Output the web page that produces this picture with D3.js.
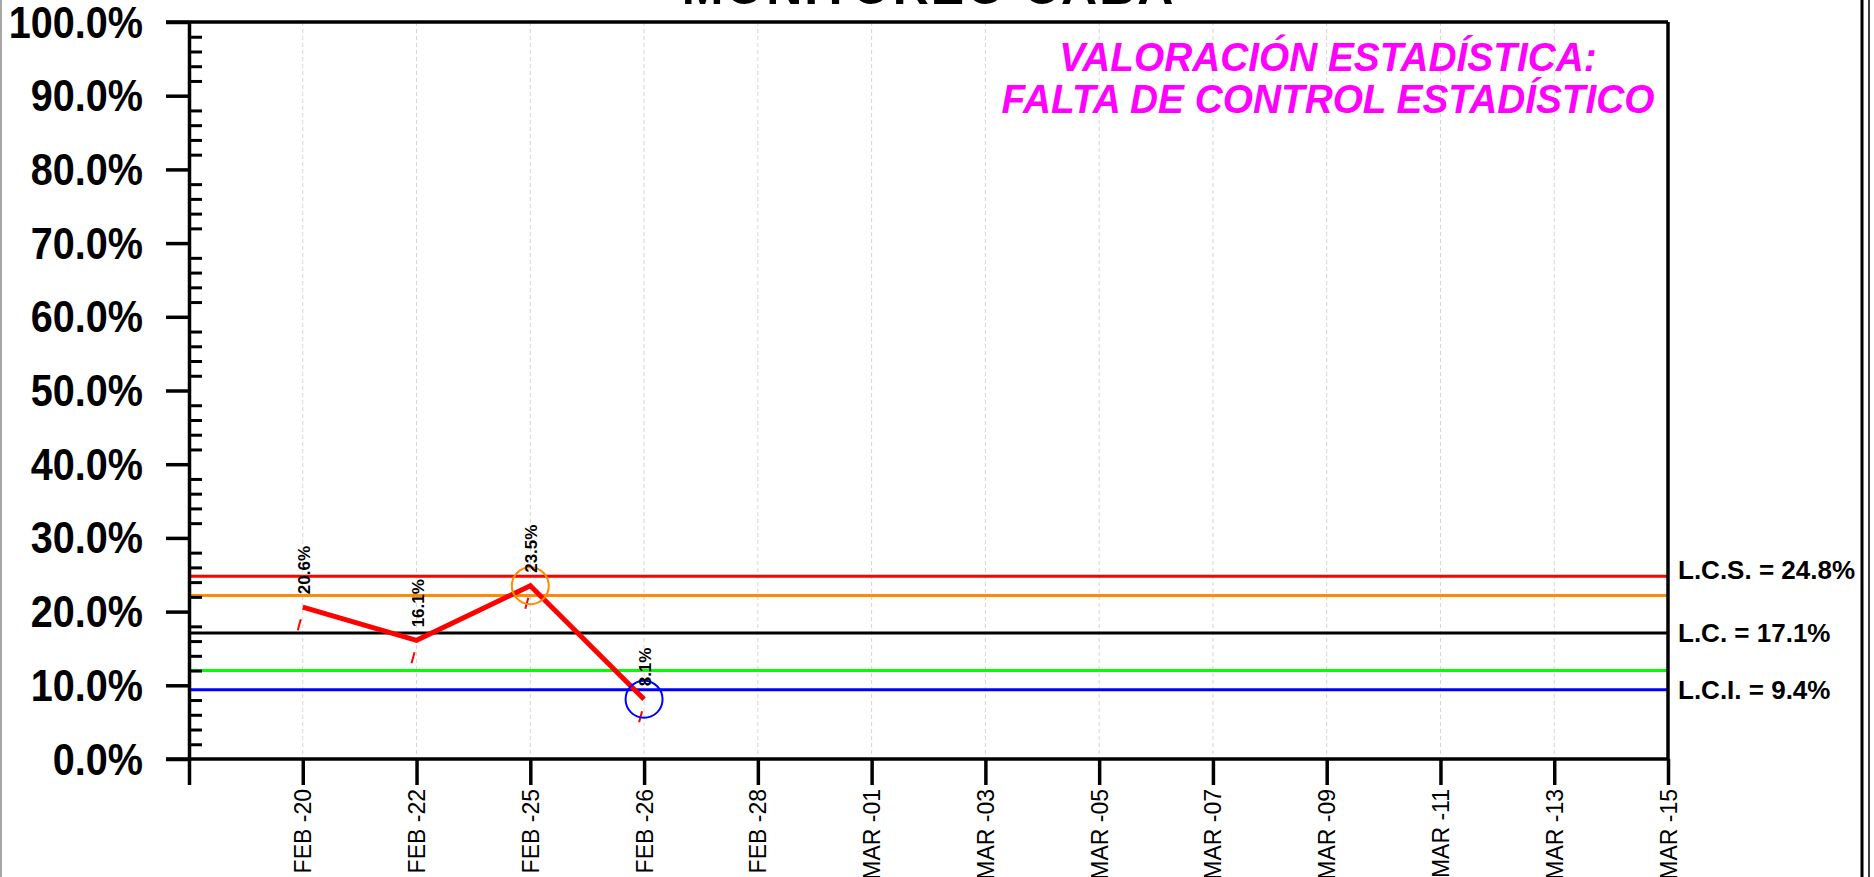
<!DOCTYPE html>
<html>
<head>
<meta charset="utf-8">
<script src="https://cdn.jsdelivr.net/npm/d3@7"></script>
<style>
	body{margin:0;background:#fff;}
	svg{display:block;font-family:Arial,'Liberation Sans',sans-serif;}
</style>
</head>
<body>
<svg id="chart"></svg>
<script>
// fechas del eje x (la primera posicion queda vacia, es el eje)
let fechas = ['FEB -20','FEB -22','FEB -25','FEB -26','FEB -28','MAR -01','MAR -03','MAR -05','MAR -07','MAR -09','MAR -11','MAR -13','MAR -15']
// valores medidos (solo las primeras fechas tienen dato)
let valores = [20.6, 16.1, 23.5, 8.1]
// limites de control
let limites = [24.8, 22.2, 17.1, 12.0, 9.4]
let limitesCols = ['#ff0000','#ff8c00','#000000','#00ff00','#0000ff']
let limitesTxt = ['L.C.S. = 24.8%', null, 'L.C. = 17.1%', null, 'L.C.I. = 9.4%']
// alertas: indice del punto y color del circulo
let alertas = [[2,'#ff8c00'],[3,'#0000ff']]
let yTicks = [0,10,20,30,40,50,60,70,80,90,100]

let _width = 1874
let _height = 877

const svg = d3.select('#chart')
	.attr('width', _width)
	.attr('height', _height)

// marco exterior
svg.append('line').attr('x1',1).attr('x2',1).attr('y1',0).attr('y2',_height).attr('stroke','#888').attr('stroke-width',1.5)
svg.append('line').attr('x1',1862).attr('x2',1862).attr('y1',0).attr('y2',_height).attr('stroke','#000').attr('stroke-width',3)
svg.append('line').attr('x1',1869).attr('x2',1869).attr('y1',0).attr('y2',_height).attr('stroke','#000').attr('stroke-width',1.5)

const x = d3.scalePoint()
	.domain([''].concat(fechas))
	.range([189, 1668])

const y = d3.scaleLinear()
	.domain([0, 100])
	.range([759, 22])

// titulo (cortado arriba)
svg.append('text')
	.attr('x', (x.range()[0] + x.range()[1]) / 2)
	.attr('y', 4)
	.attr('text-anchor','middle')
	.attr('font-size', 50)
	.attr('font-weight','bold')
	.attr('letter-spacing', 2)
	.text('MONITOREO CABA')

// grilla vertical
svg.append('g')
	.selectAll('line')
	.data(fechas)
	.enter()
	.append('line')
	.attr('x1', d => x(d)).attr('x2', d => x(d))
	.attr('y1', y(100)).attr('y2', y(0))
	.attr('stroke','#d4d4d4')
	.attr('stroke-dasharray','4,3')
	.attr('stroke-width',1)

// lineas de control
svg.append('g')
	.selectAll('line')
	.data(limites)
	.enter()
	.append('line')
	.attr('x1', x.range()[0]).attr('x2', x.range()[1])
	.attr('y1', d => y(d)).attr('y2', d => y(d))
	.attr('stroke', (d,i) => limitesCols[i])
	.attr('stroke-width', 3)

const etiquetas = limites.map((v,i) => [v, limitesTxt[i], i]).filter(d => d[1])
svg.append('g')
	.selectAll('text')
	.data(etiquetas)
	.enter()
	.append('text')
	.attr('x', x.range()[1] + 10)
	.attr('y', d => y(d[0]) + (d[2] == 0 ? 3 : 9))
	.attr('font-size', 26)
	.attr('font-weight','bold')
	.text(d => d[1])

// eje y
const yAxis = svg.append('g')
	.attr('transform', `translate(${x.range()[0]},0)`)
	.call(d3.axisLeft(y).tickValues(yTicks).tickSize(23).tickSizeOuter(0).tickPadding(0))

yAxis.select('.domain').attr('stroke-width',3.5)
yAxis.selectAll('.tick line').attr('stroke-width',3.5)
yAxis.selectAll('.tick text')
	.attr('x', null)
	.attr('dy', null)
	.attr('transform','translate(-46,15) scale(0.9,1)')
	.attr('font-size', 44)
	.attr('font-weight','bold')
	.attr('font-family','Arial,Liberation Sans,sans-serif')
	.attr('fill','#000')
	.text(d => d.toFixed(1) + '%')

// ticks menores
const minor = d3.range(0, 101, 2).filter(d => d % 10 != 0)
const yMinor = svg.append('g')
	.attr('transform', `translate(${x.range()[0]},0)`)
	.call(d3.axisRight(y).tickValues(minor).tickSize(13).tickSizeOuter(0).tickFormat(''))
yMinor.select('.domain').remove()
yMinor.selectAll('.tick line').attr('stroke-width',3)

// eje x
const xAxis = svg.append('g')
	.attr('transform', `translate(0,${y(0)})`)
	.call(d3.axisBottom(x).tickSize(26).tickSizeOuter(0))

xAxis.select('.domain').remove()
xAxis.selectAll('.tick line').attr('stroke-width',3.5)
xAxis.selectAll('.tick text')
	.attr('y', null)
	.attr('dy', null)
	.attr('text-anchor','end')
	.attr('transform','translate(8,30) rotate(-90)')
	.attr('font-size', 23)
	.attr('font-family','Arial,Liberation Sans,sans-serif')
	.attr('fill','#000')

// bordes del area (abajo, arriba, derecha)
svg.append('line')
	.attr('x1', x.range()[0] - 23).attr('x2', x.range()[1])
	.attr('y1', y(0)).attr('y2', y(0))
	.attr('stroke','#000').attr('stroke-width',3.5)
svg.append('line')
	.attr('x1', x.range()[0] - 23).attr('x2', x.range()[1])
	.attr('y1', y(100)).attr('y2', y(100))
	.attr('stroke','#000').attr('stroke-width',3.5)
svg.append('line')
	.attr('x1', x.range()[1]).attr('x2', x.range()[1])
	.attr('y1', y(100)).attr('y2', y(0))
	.attr('stroke','#000').attr('stroke-width',3.5)

// valoracion
const valoracion = svg.append('text')
	.attr('text-anchor','middle')
	.attr('font-size', 40)
	.attr('font-weight','bold')
	.attr('font-style','italic')
	.attr('fill','#ff00ff')
	.attr('transform','translate(1328,0) scale(0.97,1)')
valoracion.append('tspan').attr('x',0).attr('y',71).text('VALORACIÓN ESTADÍSTICA:')
valoracion.append('tspan').attr('x',0).attr('y',113).text('FALTA DE CONTROL ESTADÍSTICO')

// serie
const puntos = valores.map((v,i) => [fechas[i], v])

svg.append('path')
	.datum(puntos)
	.attr('fill','none')
	.attr('stroke','#ff0000')
	.attr('stroke-width',5)
	.attr('stroke-linejoin','miter')
	.attr('d', d3.line().x(d => x(d[0])).y(d => y(d[1])))

// marcas rojas debajo de cada punto
svg.append('g')
	.selectAll('line')
	.data(puntos)
	.enter()
	.append('line')
	.attr('x1', d => x(d[0]) - 5).attr('y1', d => y(d[1]) + 23)
	.attr('x2', d => x(d[0]) - 2).attr('y2', d => y(d[1]) + 12)
	.attr('stroke','#ff0000')
	.attr('stroke-width',2)

// circulos de alerta
svg.append('g')
	.selectAll('circle')
	.data(alertas)
	.enter()
	.append('circle')
	.attr('cx', d => x(fechas[d[0]]))
	.attr('cy', d => y(valores[d[0]]))
	.attr('r', 18.5)
	.attr('fill','none')
	.attr('stroke', d => d[1])
	.attr('stroke-width',2)

// etiquetas de valores
svg.append('g')
	.selectAll('text')
	.data(puntos)
	.enter()
	.append('text')
	.attr('transform', d => `translate(${x(d[0]) + 7},${y(d[1]) - 13}) rotate(-90)`)
	.attr('font-size', 17)
	.attr('font-weight','bold')
	.text(d => d[1].toFixed(1) + '%')
</script>
</body>
</html>
